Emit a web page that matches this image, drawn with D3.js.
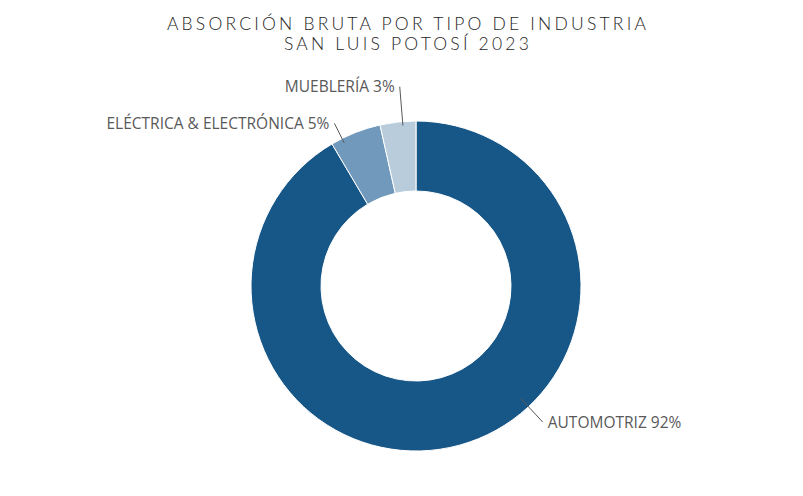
<!DOCTYPE html>
<html>
<head>
<meta charset="utf-8">
<script src="https://cdn.jsdelivr.net/npm/d3@7"></script>
<style>
  html, body { margin: 0; padding: 0; background: #fff; }
  svg { display: block; }
</style>
</head>
<body>
<div id="chart"></div>
<script>
const TITLE_LINES = ['ABSORCIÓN BRUTA POR TIPO DE INDUSTRIA', 'SAN LUIS POTOSÍ 2023']
const CATEGORIES = ['AUTOMOTRIZ', 'ELÉCTRICA & ELECTRÓNICA', 'MUEBLERÍA']
const VALUES = [91.5, 5.0, 3.5]
const PCT_LABELS = ['92%', '5%', '3%']
const COLORS = ['#175788', '#7199bb', '#b8ccdc']

const buildChart = ({ parent = null } = {}) => {
  const SIZE = { WIDTH: 803, HEIGHT: 496 },
    CENTER = { X: 416, Y: 286 },
    OUTER = 165,
    INNER = 95

  const svg = parent.append('svg')
    .attr('width', SIZE.WIDTH)
    .attr('height', SIZE.HEIGHT)

  svg.append('g')
    .selectAll('text')
    .data(TITLE_LINES)
    .enter()
    .append('text')
    .attr('x', 408)
    .attr('y', (d, i) => 30 + i * 20)
    .attr('text-anchor', 'middle')
    .style('font-family', 'Lato, "Noto Sans", sans-serif')
    .style('font-weight', 300)
    .style('font-size', '17.5px')
    .style('letter-spacing', '3.2px')
    .attr('fill', '#1e1e1e')
    .text(d => d)

  const data = CATEGORIES.map((c, i) => ({ name: c, value: VALUES[i], pct: PCT_LABELS[i], color: COLORS[i] }))

  const pie = d3.pie().sort(null).value(d => d.value)
  const arc = d3.arc().innerRadius(INNER).outerRadius(OUTER)
  const arcs = pie(data)

  const g = svg.append('g')
    .attr('transform', `translate(${CENTER.X}, ${CENTER.Y})`)

  g.selectAll('path')
    .data(arcs)
    .enter()
    .append('path')
    .attr('d', arc)
    .attr('fill', d => d.data.color)
    .attr('stroke', '#fff')
    .attr('stroke-width', 1)

  // leader placement: position along slice, inner/outer radius, text side
  const LEADERS = [
    { t: 0.416, r1: 154, r2: 186, anchor: 'start' },
    { t: 0.22, r1: 160, r2: 182, anchor: 'end' },
    { t: 0.63, r1: 161, r2: 200, anchor: 'end' }
  ]

  const labels = g.selectAll('g.label')
    .data(arcs)
    .enter()
    .append('g')
    .attr('class', 'label')

  labels.each(function(d, i) {
    const L = LEADERS[i]
    const a = d.startAngle + L.t * (d.endAngle - d.startAngle)
    const p1 = d3.pointRadial(a, L.r1)
    const p2 = d3.pointRadial(a, L.r2)
    const sel = d3.select(this)
    sel.append('line')
      .attr('x1', p1[0]).attr('y1', p1[1])
      .attr('x2', p2[0]).attr('y2', p2[1])
      .attr('stroke', '#595959')
      .attr('stroke-width', 1)
    sel.append('text')
      .attr('x', p2[0] + (L.anchor === 'start' ? 5 : -5))
      .attr('y', p2[1])
      .attr('dy', '0.35em')
      .attr('text-anchor', L.anchor)
      .style('font-family', '"Open Sans", "Noto Sans", sans-serif')
      .style('font-size', '15.5px')
      .attr('fill', '#595959')
      .text(`${d.data.name} ${d.data.pct}`)
  })
}

document.addEventListener('DOMContentLoaded', () => {
  buildChart({ parent: d3.select('#chart') })
})
</script>
</body>
</html>
